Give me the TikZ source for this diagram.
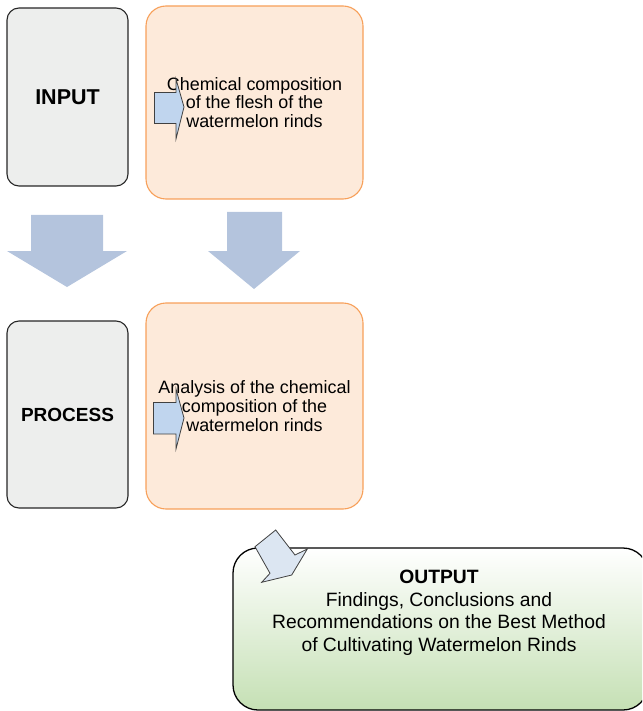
\documentclass[tikz,border=0pt]{standalone}
\usepackage{fontspec}
\setmainfont{Liberation Sans}
\definecolor{grayfill}{RGB}{237,238,237}
\definecolor{orangefill}{RGB}{253,234,218}
\definecolor{orangeline}{RGB}{247,160,90}
\definecolor{bigarrow}{RGB}{180,196,221}
\definecolor{smallarrow}{RGB}{192,213,238}
\definecolor{diagarrow}{RGB}{220,230,242}
\definecolor{greenbot}{RGB}{197,224,180}
\begin{document}
\begin{tikzpicture}[x=1pt,y=-1pt,
  graybox/.style={draw=black!85, line width=1.1pt, fill=grayfill, rounded corners=12pt,
    inner sep=0pt, minimum width=121pt},
  orangebox/.style={draw=orangeline, line width=1.1pt, fill=orangefill, rounded corners=20pt,
    inner sep=0pt, minimum width=217pt, align=center, font=\fontsize{17.9}{18.6}\selectfont},
  bigarr/.style={fill=bigarrow},
  smallarr/.style={draw=black!75, line width=0.8pt, fill=smallarrow, line join=miter},
  diagarr/.style={draw=black!75, line width=0.8pt, fill=diagarrow, line join=miter},
  outbox/.style={draw=black, line width=1.3pt, rounded corners=25pt, top color=white,
    bottom color=greenbot, minimum width=415pt, minimum height=162pt, inner sep=0pt},
  outtext/.style={align=center, inner sep=0pt, font=\fontsize{19.3}{22.5}\selectfont}
]
\useasboundingbox (0,0) rectangle (642,711);
\clip (0,0) rectangle (642,711);

% boxes
\node[graybox, minimum height=178pt, font=\fontsize{21.5}{24}\selectfont\bfseries] (input) at (67.5,97) {INPUT};
\node[orangebox, minimum height=193pt] (inbox) at (254.5,102.5)
  {Chemical composition\\of the flesh of the\\watermelon rinds};
\node[graybox, minimum height=187pt, font=\fontsize{19}{22}\selectfont\bfseries] (process) at (67.5,414.5) {PROCESS};
\node[orangebox, minimum height=206pt] (procbox) at (254.5,406)
  {Analysis of the chemical\\composition of the\\watermelon rinds};

% big down arrows
\fill[bigarr] (31,215) -- (103,215) -- (103,251) -- (127,251) -- (67,287) -- (7,251) -- (31,251) -- cycle;
\fill[bigarr] (227,212) -- (282,212) -- (282,251) -- (300,251) -- (254,289) -- (208,251) -- (227,251) -- cycle;

% small arrows inside orange boxes
\draw[smallarr] (154.5,92.5) -- (176,92.5) -- (176,79) -- (184,107) -- (176,139) -- (176,123.5) -- (154.5,123.5) -- cycle;
\draw[smallarr] (153.5,402.5) -- (176,402.5) -- (176,389) -- (184,418) -- (176,449) -- (176,434) -- (153.5,434) -- cycle;

% output
\node[outbox] (outbx) at (440.5,629) {};
\node[outtext] (outtxt) at (439,613)
  {\textbf{OUTPUT}\\Findings, Conclusions and\\Recommendations on the Best Method\\of Cultivating Watermelon Rinds};
\draw[diagarr] (255,546.7) -- (275.7,530) -- (295,555) -- (307.3,549) -- (291.7,575) -- (261.7,582.3) -- (270,573.3) -- cycle;
\end{tikzpicture}
\end{document}
